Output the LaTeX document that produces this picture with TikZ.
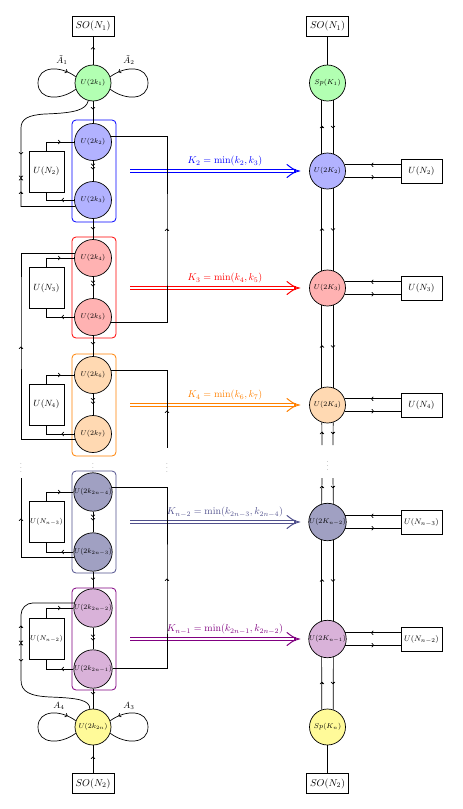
\documentclass[tikz,border=0pt]{standalone}
\usetikzlibrary{arrows.meta,calc,decorations.markings}
\definecolor{navyfill}{RGB}{160,160,194}
\definecolor{navybox}{RGB}{80,80,140}
\newcommand\tipD[2]{\draw[ahd] (#1,#2-2) -- (#1,#2);}
\newcommand\tipU[2]{\draw[ahd] (#1,#2+2) -- (#1,#2);}
\newcommand\tipL[2]{\draw[ahd] (#1+2,#2) -- (#1,#2);}
\newcommand\tipR[2]{\draw[ahd] (#1-2,#2) -- (#1,#2);}
% thick double arrow: #1 colour, #2 y position
\newcommand\karr[2]{%
  \fill[#1] (130,#2-2.1) rectangle (296,#2+2.1);
  \fill[white] (130,#2-0.65) rectangle (294,#2+0.65);
  \draw[#1, line width=1pt, line cap=round] (287,#2-6.5) .. controls (293,#2-1.8) .. (299,#2) .. controls (293,#2+1.8) .. (287,#2+6.5);
}
\begin{document}
\begin{tikzpicture}[x=1pt,y=-1pt,
  gnode/.style={circle, draw, line width=0.7pt, minimum size=37pt, inner sep=0pt, font=\scriptsize},
  snode/.style={gnode, minimum size=36pt},
  sobox/.style={draw, line width=0.7pt, minimum width=42pt, minimum height=20pt, inner sep=1pt},
  lbox/.style={draw, line width=0.7pt, minimum width=35pt, minimum height=41pt, inner sep=0pt, font=\small},
  rbox/.style={draw, line width=0.7pt, minimum width=41pt, minimum height=24pt, inner sep=0pt, font=\small},
  conn/.style={line width=0.7pt},
  ahd/.style={-{To[length=2.5pt,width=4.5pt]}, line width=0.7pt},
  grp/.style={rounded corners=4pt, line width=0.8pt},
  klab/.style={font=\normalsize},
  dotsn/.style={font=\scriptsize, text=black!60, inner sep=0pt},
  looparr/.style={decoration={markings, mark=at position 0.9 with {\arrow{To[length=2.5pt,width=4.5pt]}}}, postaction={decorate}}
]
\useasboundingbox (0,0) rectangle (463,809);

% ---------- left column ----------
\node[sobox] (S1) at (93,26) {$SO(N_1)$};
\node[snode, fill=green!30] (U1) at (93,83) {$U(2k_1)$};
\node[gnode, fill=blue!30] (U2) at (93,142) {$U(2k_2)$};
\node[gnode, fill=blue!30] (U3) at (93,200) {$U(2k_3)$};
\node[gnode, fill=red!30] (U4) at (93,258) {$U(2k_4)$};
\node[gnode, fill=red!30] (U5) at (93,317) {$U(2k_5)$};
\node[gnode, fill=orange!30] (U6) at (93,375) {$U(2k_6)$};
\node[gnode, fill=orange!30] (U7) at (93,434) {$U(2k_7)$};
\node[gnode, fill=navyfill] (U8) at (93,492) {$U(2k_{2n-4})$};
\node[gnode, fill=navyfill] (U9) at (93,552) {$U(2k_{2n-3})$};
\node[gnode, fill=violet!30] (U10) at (93,608) {$U(2k_{2n-2})$};
\node[gnode, fill=violet!30] (U11) at (93,669) {$U(2k_{2n-1})$};
\node[snode, fill=yellow!40] (U12) at (93,727) {$U(2k_{2n})$};
\node[sobox] (S2) at (93,783.5) {$SO(N_2)$};

\draw[grp, blue] (72,120) rectangle (116,222);
\draw[grp, red] (72,237) rectangle (116,338);
\draw[grp, orange] (72,354) rectangle (116,456);
\draw[grp, navybox] (72,471) rectangle (116,573);
\draw[grp, violet] (72,588) rectangle (116,690);

\node[lbox] (L2) at (46.5,171.5) {$U(N_2)$};
\node[lbox] (L3) at (46.5,288) {$U(N_3)$};
\node[lbox] (L4) at (46.5,404.5) {$U(N_4)$};
\node[lbox, font=\scriptsize] (L5) at (46.5,521.5) {$U(N_{n-3})$};
\node[lbox, font=\scriptsize] (L6) at (46.5,639) {$U(N_{n-2})$};

\node[font=\small] (a1) at (62,60) {$\tilde A_1$};
\node[font=\small] (a2) at (129,60) {$\tilde A_2$};
\node[font=\small] (a4) at (59,706) {$A_4$};
\node[font=\small] (a3) at (129,706) {$A_3$};

% column connectors
\draw[conn] (U1) -- (S1);
\draw[conn] (U1) -- (U2);
\draw[conn] (U2) -- (U3);
\draw[conn] (U3) -- (U4);
\draw[conn] (U4) -- (U5);
\draw[conn] (U5) -- (U6);
\draw[conn] (U6) -- (U7);
\draw[conn] (U8) -- (U9);
\draw[conn] (U9) -- (U10);
\draw[conn] (U10) -- (U11);
\draw[conn] (U11) -- (U12);
\draw[conn] (S2) -- (U12);

% loops
\draw[conn, looparr] (U1.200) .. controls (60,101) and (38,100) .. (38,83) .. controls (38,66) and (60,65) .. (U1.160);
\draw[conn, looparr] (U1.-20) .. controls (126,101) and (148,100) .. (148,83) .. controls (148,66) and (126,65) .. (U1.20);
\draw[conn, looparr] (U12.200) .. controls (60,745) and (38,744) .. (38,727) .. controls (38,710) and (60,709) .. (U12.160);
\draw[conn, looparr] (U12.-20) .. controls (126,745) and (148,744) .. (148,727) .. controls (148,710) and (126,709) .. (U12.20);

% flavour boxes on the left
\draw[conn] (L2.north) |- (U2.west);
\draw[conn] (L2.south) |- (U3.west);
\draw[conn] (L3.north) |- (U4.west);
\draw[conn] (L3.south) |- (U5.west);
\draw[conn] (L4.north) |- (U6.west);
\draw[conn] (L4.south) |- (U7.west);
\draw[conn] (L5.north) |- (U8.west);
\draw[conn] (L5.south) |- (U9.west);
\draw[conn] (L6.north) |- (U10.west);
\draw[conn] (L6.south) |- (U11.west);

% outer left lines
\draw[conn] (U1.255) .. controls (86,110) and (75,113) .. (45,114) .. controls (28,115) and (21,119) .. (21,128) |- (U3.200);
\draw[conn] (U4.165) -| (21,300) |- (U7.198);
\coordinate (o3) at (21,478);
\draw[conn] (o3) |- (U9.195);
\draw[conn] (U10.165) [rounded corners=12pt] -| (21,640) [sharp corners] -- (21,680) .. controls (21,692) and (30,696) .. (50,697) .. controls (78,698) and (90,700) .. (U12.100);

% ---------- right column ----------
\node[sobox] (T1) at (327.5,26) {$SO(N_1)$};
\node[snode, fill=green!30] (R1) at (327.5,83) {$Sp(K_1)$};
\node[snode, fill=blue!30] (R2) at (327.5,171) {$U(2K_2)$};
\node[snode, fill=red!30] (R3) at (327.5,288) {$U(2K_3)$};
\node[snode, fill=orange!30] (R4) at (327.5,405) {$U(2K_4)$};
\node[snode, fill=navyfill] (R5) at (327.5,522) {$U(2K_{n-2})$};
\node[snode, fill=violet!30] (R6) at (327.5,639) {$U(2K_{n-1})$};
\node[snode, fill=yellow!40] (R7) at (327.5,727) {$Sp(K_n)$};
\node[sobox] (T2) at (327.5,783.5) {$SO(N_2)$};

\node[rbox] (B2) at (421.5,171) {$U(N_2)$};
\node[rbox] (B3) at (421.5,288) {$U(N_3)$};
\node[rbox] (B4) at (421.5,405) {$U(N_4)$};
\node[rbox, font=\footnotesize] (B5) at (421.5,522.5) {$U(N_{n-3})$};
\node[rbox, font=\footnotesize] (B6) at (421.5,639) {$U(N_{n-2})$};

\draw[conn] (T1) -- (R1);
\draw[conn] (R7) -- (T2);
\foreach \a/\b in {R1/R2,R2/R3,R3/R4,R5/R6,R6/R7}{
  \draw[conn] (\a.252) -- (\b.108);
  \draw[conn] (\a.288) -- (\b.72);
}
\coordinate (p1) at (322,445); \coordinate (p2) at (333,445);
\coordinate (q1) at (322,478); \coordinate (q2) at (333,478);
\draw[conn] (R4.252) -- (p1);
\draw[conn] (R4.288) -- (p2);
\draw[conn] (q1) -- (R5.108);
\draw[conn] (q2) -- (R5.72);
\foreach \r/\b in {R2/B2,R3/B3,R4/B4,R5/B5,R6/B6}{
  \draw[conn] (\r.20) -- (\r.20 -| \b.west);
  \draw[conn] (\r.-20) -- (\r.-20 -| \b.west);
}

% ---------- K arrows ----------
\karr{blue}{171}
\karr{red}{288}
\karr{orange}{405}
\karr{navybox}{522}
\karr{violet}{639}
\node[klab, text=blue] (kl2) at (225,161) {$K_2=\min(k_2,k_3)$};
\node[klab, text=red] (kl3) at (225,278) {$K_3=\min(k_4,k_5)$};
\node[klab, text=orange] (kl4) at (225,395) {$K_4=\min(k_6,k_7)$};
\node[klab, text=navybox] (kl5) at (225,512) {$K_{n-2}=\min(k_{2n-3},k_{2n-4})$};
\node[klab, text=violet] (kl6) at (225,629) {$K_{n-1}=\min(k_{2n-1},k_{2n-2})$};

% outer right lines (drawn over the K arrows)
\draw[conn] (U2.18) -| (167,250) |- (U5.-18);
\coordinate (o6) at (167,448);
\draw[conn] (U6.15) -| (o6);
\draw[conn] (U8.15) -| (167,600) |- (U11.3);

% ---------- dots ----------
\node[dotsn] (d1) at (21,465) {$\vdots$};
\node[dotsn] (d2) at (93,465) {$\vdots$};
\node[dotsn] (d3) at (167,465) {$\vdots$};
\node[dotsn] (d4) at (327.5,463) {$\vdots$};

% ---------- arrow heads ----------
\tipU{93}{47}
\tipD{93}{109.5}
\tipD{93}{166}\tipD{93}{169.5}
\tipD{93}{229.5}
\tipD{93}{283}\tipD{93}{286.5}
\tipD{93}{344.5}
\tipD{93}{400.5}\tipD{93}{404}
\tipD{93}{517}\tipD{93}{520.5}
\tipD{93}{580}
\tipD{93}{637}\tipD{93}{640.5}
\tipD{93}{694.5}
\tipU{93}{756.5}
\foreach \yt/\yb in {142/200,258/317,375/434,492/552,608/669}{
  \tipR{60.5}{\yt}
  \tipL{61.5}{\yb}
}
\tipD{21}{154.5}\tipD{21}{178}\tipU{21}{178}\tipU{21}{191.5}
\tipU{21}{346.5}
\tipU{21}{518.5}
\tipU{21}{625.5}\tipD{21}{643}\tipU{21}{643}\tipD{21}{661.5}
\tipU{167}{228.5}
\tipU{167}{410.5}
\tipU{167}{578.5}
\foreach \m in {127,229.5,346.5,433,487,580.5,683}{
  \tipU{322}{\m-1.2}
  \tipD{333}{\m+1.2}
}
\foreach \y in {171,288,405,522,639}{
  \tipL{371}{\y-6.2}
  \tipR{374}{\y+6.2}
}
\end{tikzpicture}
\end{document}
